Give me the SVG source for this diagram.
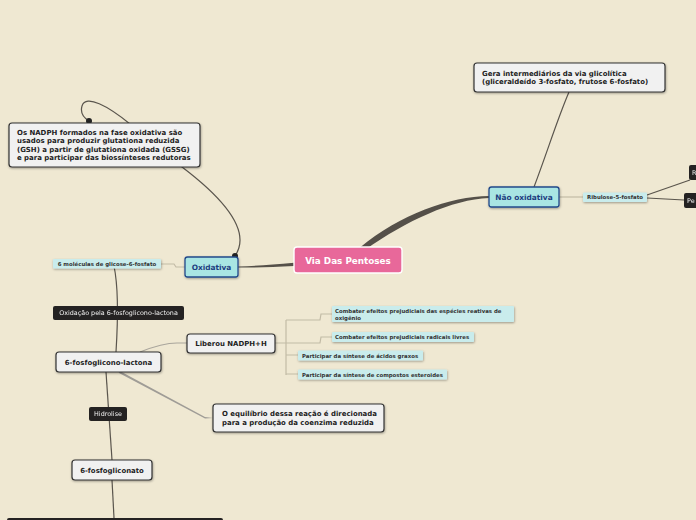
<svg xmlns="http://www.w3.org/2000/svg" width="696" height="520" viewBox="0 0 696 520">
<defs>
<filter id="sh" x="-10%" y="-20%" width="120%" height="150%"><feDropShadow dx="0.5" dy="1" stdDeviation="0.8" flood-color="#000" flood-opacity="0.35"/></filter>
</defs>
<style>
.box{fill:#f1f1f1;stroke:#333;stroke-width:1.2;filter:url(#sh)}
.bt{font-family:"DejaVu Sans",Verdana,sans-serif;font-weight:bold;font-size:6.95px;fill:#222}
.lab{fill:#c9ecec;filter:url(#sh)}
.lt{font-family:"DejaVu Sans",Verdana,sans-serif;font-weight:bold;font-size:5.4px;fill:#333}
.dark{fill:#242222}
.dt{font-family:"DejaVu Sans",Verdana,sans-serif;font-size:6.4px;fill:#f4f4f4;opacity:0.99}
.main{fill:#a9e5e3;stroke:#23498a;stroke-width:1.3;filter:url(#sh)}
.mt{font-family:"DejaVu Sans",Verdana,sans-serif;font-weight:bold;font-size:7.4px;fill:#1d3d80}
.ln{fill:none;stroke:#5a554d;stroke-width:1.2}
.lg{fill:none;stroke:#c2bba6;stroke-width:1.2}
</style>
<rect width="696" height="520" fill="#efe8d2"/>
<g id="connectors">
<path d="M360,247.5 C400,214.5 450,196.5 489,196 L489,198 C452,199.5 406,221 365.5,249.5 Z" fill="#555049"/>
<path d="M294,262.8 C272,265 255,266 238,266.4 L238,267.6 C255,267.6 272,267.2 294,266 Z" fill="#555049"/>
<path class="ln" d="M235,256 C246,240 244,214 182,167 L130,124 C108,106 86,94 82,106 C80,113 84,118 89,121"/>
<circle cx="235" cy="256" r="3" fill="#222"/>
<circle cx="89" cy="121" r="3" fill="#222"/>
<path class="ln" d="M534,187 C548,150 557,120 569,92"/>
<path class="lg" d="M559,197 L583,197"/>
<path class="ln" d="M647,195 L690,180"/>
<path class="ln" d="M647,198 L684,200"/>
<path class="lg" d="M161,264 L174,264 L176,267 L185,267"/>
<path class="ln" d="M114,266 C118,285 118,320 116,352"/>
<path d="M140,352 C155,346 165,343 177,343 L187,343" fill="none" stroke="#a9a59c" stroke-width="1.2"/>
<path d="M118,370 L205,417 L213,418 L205,418.6 L119,373 Z" fill="#9f9c96"/>
<path class="lg" d="M275,343 L286,343 M286,320 L286,375 M286,320 L320,320 L321,314 L332,314 M286,343 L320,343 L321,337 L332,337 M286,355 L298,355 M286,374 L298,374"/>
<path class="ln" d="M106,372 C108,400 110,430 112,460"/>
<path class="ln" d="M112,480 L114,518"/>
</g>
<g id="center">
<rect x="294" y="247" width="108" height="26" rx="3" fill="#e8689a" stroke="#fff" stroke-width="1.4"/>
<text x="348" y="264" text-anchor="middle" font-family="DejaVu Sans,Verdana,sans-serif" font-weight="bold" font-size="8.8" fill="#fff">Via Das Pentoses</text>
</g>
<g id="oxidativa">
<rect class="main" x="185" y="257" width="53" height="20" rx="2.5"/>
<text class="mt" x="211.5" y="270" text-anchor="middle">Oxidativa</text>
</g>
<g id="nao-oxidativa">
<rect class="main" x="489" y="187" width="70" height="20" rx="2.5"/>
<text class="mt" x="524" y="200" text-anchor="middle">Não oxidativa</text>
</g>
<g id="gera">
<rect class="box" x="474" y="63" width="191" height="29" rx="3"/>
<text class="bt" x="482" y="75.5">Gera intermediários da via glicolítica</text>
<text class="bt" x="482" y="84">(gliceraldeído 3-fosfato, frutose 6-fosfato)</text>
</g>
<g id="ribulose">
<rect class="lab" x="583" y="192.5" width="64" height="9.5" rx="1"/>
<text class="lt" x="615" y="199.3" text-anchor="middle">Ribulose-5-fosfato</text>
</g>
<g id="r-node">
<rect class="dark" x="689" y="165" width="12" height="15" rx="2"/>
<text class="dt" x="692" y="175">R</text>
</g>
<g id="pe-node">
<rect class="dark" x="684" y="193" width="16" height="15" rx="2"/>
<text class="dt" x="687" y="203">Pe</text>
</g>
<g id="nadph">
<rect class="box" x="9" y="123" width="191" height="44" rx="3"/>
<text class="bt" x="17" y="134.5">Os NADPH formados na fase oxidativa são</text>
<text class="bt" x="17" y="143">usados para produzir glutationa reduzida</text>
<text class="bt" x="17" y="151.5">(GSH) a partir de glutationa oxidada (GSSG)</text>
<text class="bt" x="17" y="160">e para participar das biossínteses redutoras</text>
</g>
<g id="moleculas">
<rect class="lab" x="53" y="259" width="108" height="9.5" rx="1"/>
<text class="lt" x="107" y="266" text-anchor="middle">6 moléculas de glicose-6-fosfato</text>
</g>
<g id="oxidacao">
<rect class="dark" x="53" y="306" width="131" height="14" rx="2"/>
<text class="dt" x="118.5" y="315.3" text-anchor="middle">Oxidação pela 6-fosfoglicono-lactona</text>
</g>
<g id="lactona">
<rect class="box" x="56" y="352" width="105" height="20" rx="3"/>
<text class="bt" x="108.5" y="364.5" text-anchor="middle">6-fosfoglicono-lactona</text>
</g>
<g id="liberou">
<rect class="box" x="187" y="334" width="88" height="19" rx="3"/>
<text class="bt" x="231" y="346" text-anchor="middle">Liberou NADPH+H</text>
</g>
<g id="combater1">
<rect class="lab" x="332" y="306" width="182" height="16" rx="1"/>
<text class="lt" x="335" y="313">Combater efeitos prejudiciais das espécies reativas de</text>
<text class="lt" x="335" y="319.5">oxigênio</text>
</g>
<g id="combater2">
<rect class="lab" x="332" y="332" width="142" height="10" rx="1"/>
<text class="lt" x="335" y="339">Combater efeitos prejudiciais radicais livres</text>
</g>
<g id="participar1">
<rect class="lab" x="298" y="350.5" width="125" height="10" rx="1"/>
<text class="lt" x="302" y="357.5">Participar da síntese de ácidos graxos</text>
</g>
<g id="participar2">
<rect class="lab" x="298" y="369.5" width="149" height="10" rx="1"/>
<text class="lt" x="302" y="376.5">Participar da síntese de compostos esteroides</text>
</g>
<g id="equilibrio">
<rect class="box" x="213" y="404" width="171" height="28" rx="3"/>
<text class="bt" x="222" y="416">O equilíbrio dessa reação é direcionada</text>
<text class="bt" x="222" y="425">para a produção da coenzima reduzida</text>
</g>
<g id="hidrolise">
<rect class="dark" x="89" y="407" width="38" height="14" rx="2"/>
<text class="dt" x="108" y="416.3" text-anchor="middle">Hidrolise</text>
</g>
<g id="gliconato">
<rect class="box" x="72" y="460" width="80" height="20" rx="3"/>
<text class="bt" x="112" y="472.5" text-anchor="middle">6-fosfogliconato</text>
</g>
<g id="bottom-node">
<rect class="dark" x="7" y="518" width="216" height="10" rx="2"/>
</g>
</svg>
